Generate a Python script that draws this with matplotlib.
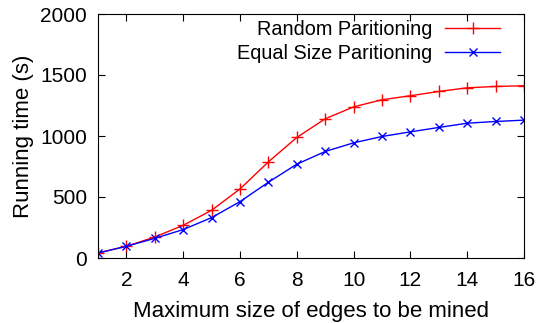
import matplotlib.pyplot as plt

plt.rcParams['font.family'] = ['Liberation Sans', 'DejaVu Sans']

# max edge size vs running time (s)
sizes = list(range(1, 17))
random_part = [41, 96, 172, 268, 391, 566, 788, 988, 1141, 1239, 1297, 1330, 1365, 1395, 1406, 1412]
equal_part = [41, 96, 161, 233, 331, 462, 621, 769, 873, 944, 996, 1034, 1070, 1105, 1119, 1130]

fig = plt.figure(figsize=(5.42, 3.23), dpi=100)
ax = fig.add_axes([98/542, 1 - 258/323, 426/542, 244/323])

ax.plot(sizes, random_part, color='red', marker='+', markersize=8, linewidth=1,
        label='Random Paritioning')
ax.plot(sizes, equal_part, color='blue', marker='x', markersize=6, linewidth=1,
        label='Equal Size Paritioning')

ax.set_xlim(1, 16)
ax.set_ylim(0, 2000)
ax.set_xticks(range(2, 17, 2))
ax.set_yticks(range(0, 2001, 500))
ax.tick_params(direction='in', top=True, right=True, labelsize=15, length=5)
ax.tick_params(axis='x', pad=9)
ax.tick_params(axis='y', pad=8)
ax.set_xlabel('Maximum size of edges to be mined', fontsize=16, labelpad=8)
ax.set_ylabel('Running time (s)', fontsize=16, labelpad=4)

ax.legend(loc='upper right', bbox_to_anchor=(500/542, 1 - 20/323),
          bbox_transform=fig.transFigure, frameon=False, markerfirst=False,
          fontsize=14.3, handlelength=2.75, handletextpad=0.65,
          borderaxespad=0, borderpad=0, labelspacing=0.25)

fig.savefig('out.png')
